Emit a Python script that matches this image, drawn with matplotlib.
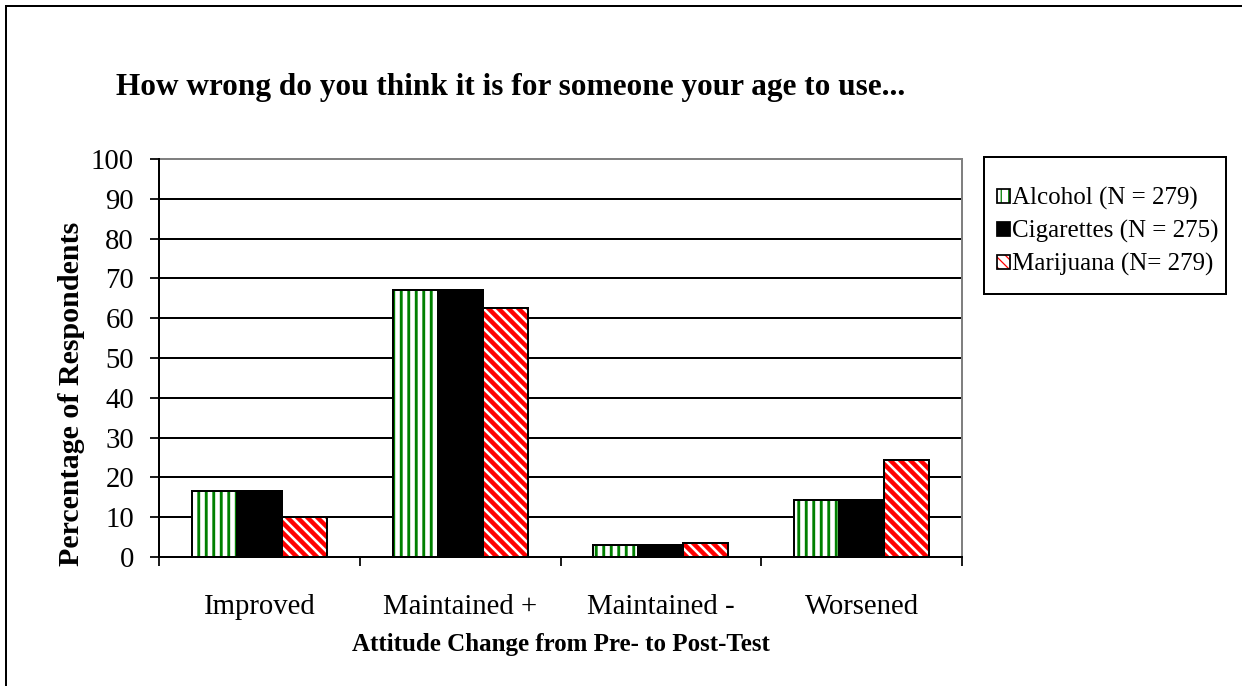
import numpy as np
import matplotlib
matplotlib.use('Agg')
from matplotlib import pyplot as plt
from matplotlib.patches import Patch, Rectangle
from matplotlib.legend_handler import HandlerTuple

# data
categories = ['Improved', 'Maintained +', 'Maintained -', 'Worsened']
alcohol = [16.6, 67.0, 3.0, 14.3]
cigarettes = [16.6, 67.0, 3.0, 14.3]
marijuana = [10.0, 62.6, 3.5, 24.4]
labels = ['Alcohol (N = 279)', 'Cigarettes (N = 275)', 'Marijuana (N= 279)']

W, H, DPI = 1242, 686, 90
plt.rcParams['font.family'] = ['Liberation Serif', 'DejaVu Serif']

fig = plt.figure(figsize=(W / DPI, H / DPI), dpi=DPI)
ax = fig.add_axes([159 / W, (H - 557) / H, 803 / W, 398 / H])

# outer chart border (runs off the right/bottom of the image)
fig.patches.append(Rectangle((6 / W, -0.2), 1.5, (H - 6) / H + 0.2,
                             transform=fig.transFigure, fill=False,
                             edgecolor='black', linewidth=1.6))

x = np.arange(len(categories))
bw = 0.224

# values, face, hatch, hatch colour, hatch line width
series = [
    (alcohol, 'white', '||', 'green', 2.3),
    (cigarettes, 'black', None, 'black', 1.0),
    (marijuana, 'white', '\\\\\\', 'red', 3.6),
]

handles = []
for i, (vals, face, hatch, hcol, hlw) in enumerate(series):
    xs = x + (i - 1) * bw
    with plt.rc_context({'hatch.linewidth': hlw}):
        ax.bar(xs, vals, bw, color=face, hatch=hatch, edgecolor=hcol,
               linewidth=0, zorder=3)
        hp = Patch(facecolor=face, hatch=hatch, edgecolor=hcol, linewidth=0)
    ax.bar(xs, vals, bw, fill=False, edgecolor='black', linewidth=1.6,
           zorder=4)
    handles.append((hp, Patch(fill=False, edgecolor='black', linewidth=1.4)))

ax.set_xlim(-0.5, len(categories) - 0.5)
ax.set_ylim(0, 100)
ax.set_yticks(np.arange(0, 101, 10))
for yv in range(10, 100, 10):
    ax.axhline(yv, color='black', linewidth=1.6, zorder=1)

ax.set_xticks(x)
ax.set_xticklabels(categories)
ax.set_xticks(np.arange(-0.5, len(categories), 1), minor=True)
ax.tick_params(axis='x', which='major', length=0, pad=30, labelsize=23)
ax.tick_params(axis='x', which='minor', length=7, width=1.4, direction='out')
ax.tick_params(axis='y', length=7, width=1.4, labelsize=23, pad=13)

for s in ['left', 'bottom']:
    ax.spines[s].set_linewidth(1.6)
    ax.spines[s].set_zorder(5)
for s in ['top', 'right']:
    ax.spines[s].set_color('#808080')
    ax.spines[s].set_linewidth(1.6)

ax.set_xlabel('Attitude Change from Pre- to Post-Test', fontsize=20,
              fontweight='bold', labelpad=10)
fig.text(72 / W, 1 - 394 / H, 'Percentage of Respondents', rotation=90,
         ha='center', va='center', fontsize=24, fontweight='bold')

fig.text(511 / W, 1 - 95 / H,
         'How wrong do you think it is for someone your age to use...',
         ha='center', va='baseline', fontsize=25, fontweight='bold')

# legend box drawn separately so padding can differ by side
fig.patches.append(Rectangle((984 / W, 1 - 294 / H), 242 / W, 137 / H,
                             transform=fig.transFigure, fill=False,
                             edgecolor='black', linewidth=1.6, zorder=5))
leg = fig.legend(handles, labels, handler_map={tuple: HandlerTuple(ndivide=1, pad=0)},
                 loc='upper left', bbox_to_anchor=(997 / W, 1 - 187 / H),
                 fontsize=20, frameon=False, borderaxespad=0, borderpad=0,
                 handlelength=0.5, handleheight=0.5, handletextpad=0.12,
                 labelspacing=0.4)

fig.savefig('out.png', dpi=DPI)
